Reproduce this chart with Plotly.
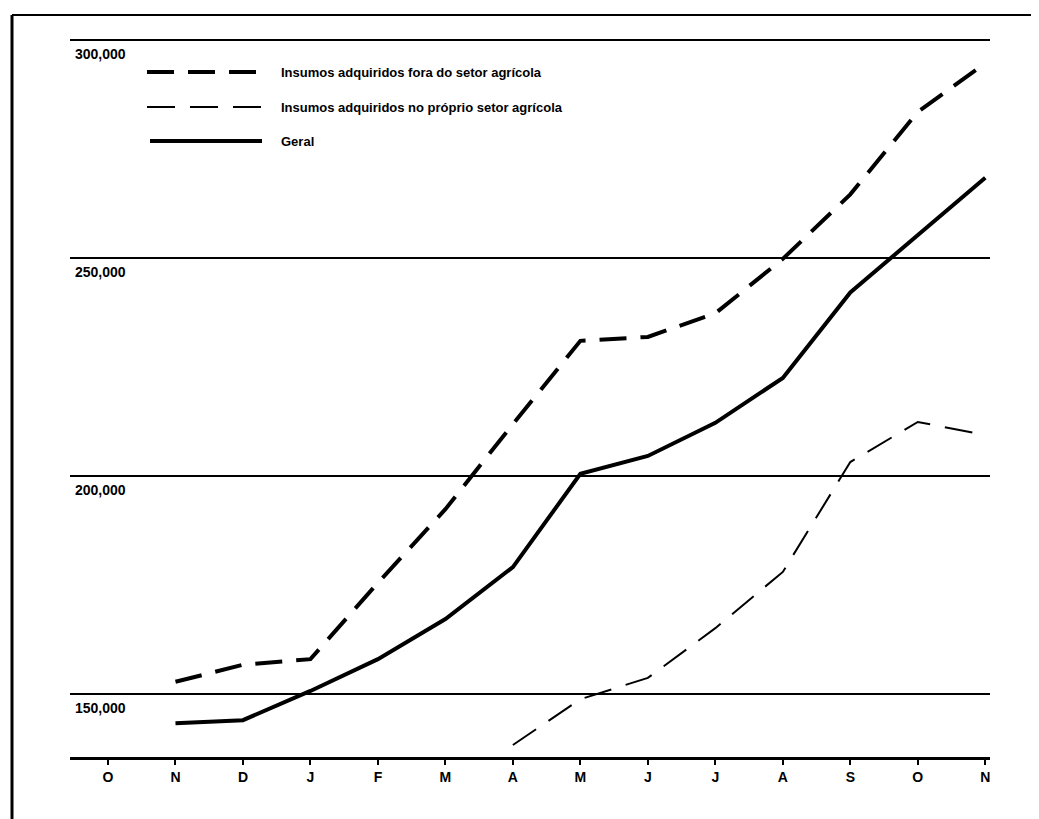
import plotly.graph_objects as go

# ---- data ----
months = ["O", "N", "D", "J", "F", "M", "A", "M", "J", "J", "A", "S", "O", "N"]

series_names = [
    "Insumos adquiridos fora do setor agrícola",
    "Insumos adquiridos no próprio setor agrícola",
    "Geral",
]

fora_setor = [None, 152800, 156700, 158000, 175500, 192400, 211900, 231000,
              231900, 237300, 249800, 264600, 283500, 294700]
proprio_setor = [None, None, None, None, None, None, 138300, 148800,
                 153700, 165100, 178000, 203200, 212400, 209400]
geral = [None, 143300, 144000, 150700, 158000, 167200, 179100, 200500,
         204600, 212200, 222500, 242100, 255300, 268400]

y_ticks = [150000, 200000, 250000, 300000]
y_tick_labels = ["150,000", "200,000", "250,000", "300,000"]

# ---- layout geometry (page pixels; the page body has an 8px margin) ----
OFF = 8
W, H = 1039 - OFF, 819 - OFF
PLOT_L, PLOT_R, PLOT_T, PLOT_B = 70, 990, 16, 757   # page px
ML, MT = PLOT_L - OFF, PLOT_T - OFF
MR, MB = W - (PLOT_R - OFF), H - (PLOT_B - OFF)
PW, PH = PLOT_R - PLOT_L, PLOT_B - PLOT_T

def px(x):
    return (x - PLOT_L) / PW

def py(y):
    return (PLOT_B - y) / PH

FONT = "Liberation Sans, Arial, sans-serif"

x_idx = list(range(len(months)))

styles = [
    dict(color="black", width=4, dash="27px,14px"),
    dict(color="black", width=2, dash="28px,15px"),
    dict(color="black", width=4, dash="solid"),
]
values = [fora_setor, proprio_setor, geral]

fig = go.Figure()
for name, vals, st in zip(series_names, values, styles):
    fig.add_trace(go.Scatter(
        x=x_idx, y=vals, mode="lines", name=name,
        line=st, connectgaps=False, showlegend=False,
    ))

# custom legend (long line samples as in the reference)
legend_rows = [(72, 147, 265), (107, 147, 265), (141, 150, 262)]
shapes = []
annotations = []
for (ly, lx0, lx1), name, st in zip(legend_rows, series_names, styles):
    shapes.append(dict(type="line", xref="paper", yref="paper",
                       x0=px(lx0), x1=px(lx1), y0=py(ly), y1=py(ly),
                       line=dict(color="black", width=st["width"], dash=st["dash"])))
    annotations.append(dict(xref="paper", yref="paper", x=px(279), y=py(ly),
                            xanchor="left", yanchor="middle", showarrow=False,
                            text="<b>" + name + "</b>",
                            font=dict(family=FONT, size=13, color="black")))

# y tick labels sit just below their gridlines, inside the plot
for v, t in zip(y_ticks, y_tick_labels):
    annotations.append(dict(xref="paper", yref="y", x=px(73), y=v,
                            xanchor="left", yanchor="middle", yshift=-14,
                            showarrow=False, text="<b>" + t + "</b>",
                            font=dict(family=FONT, size=14, color="black")))

# frame (top and left borders of the scanned figure)
shapes.append(dict(type="line", xref="paper", yref="paper",
                   x0=px(12), x1=px(1039), y0=py(15), y1=py(15),
                   line=dict(color="black", width=2)))
shapes.append(dict(type="line", xref="paper", yref="paper",
                   x0=px(12), x1=px(12), y0=py(15), y1=py(819),
                   line=dict(color="black", width=3)))

UNIT = 50000 / 218
y_bottom = 150000 - (PLOT_B - 694) * UNIT
y_top = 300000 + (40 - PLOT_T) * UNIT

fig.update_layout(
    width=W, height=H,
    margin=dict(l=ML, r=MR, t=MT, b=MB, pad=0, autoexpand=False),
    paper_bgcolor="white", plot_bgcolor="white",
    font=dict(family=FONT, color="black"),
    shapes=shapes, annotations=annotations,
    showlegend=False,
)

fig.update_xaxes(
    range=[-0.563, 13.07],
    tickmode="array", tickvals=x_idx,
    ticktext=["<b>" + m + "</b>" for m in months],
    tickfont=dict(family=FONT, size=14, color="black"),
    showgrid=False, zeroline=False,
    showline=True, linecolor="black", linewidth=3,
    ticks="outside", ticklen=5, tickwidth=2, tickcolor="black",
    fixedrange=True,
)

fig.update_yaxes(
    range=[y_bottom, y_top],
    tickmode="array", tickvals=y_ticks,
    showticklabels=False,
    showgrid=True, gridcolor="black", gridwidth=2,
    zeroline=False, showline=False, ticks="",
    fixedrange=True,
)

fig.write_html("out.html")
